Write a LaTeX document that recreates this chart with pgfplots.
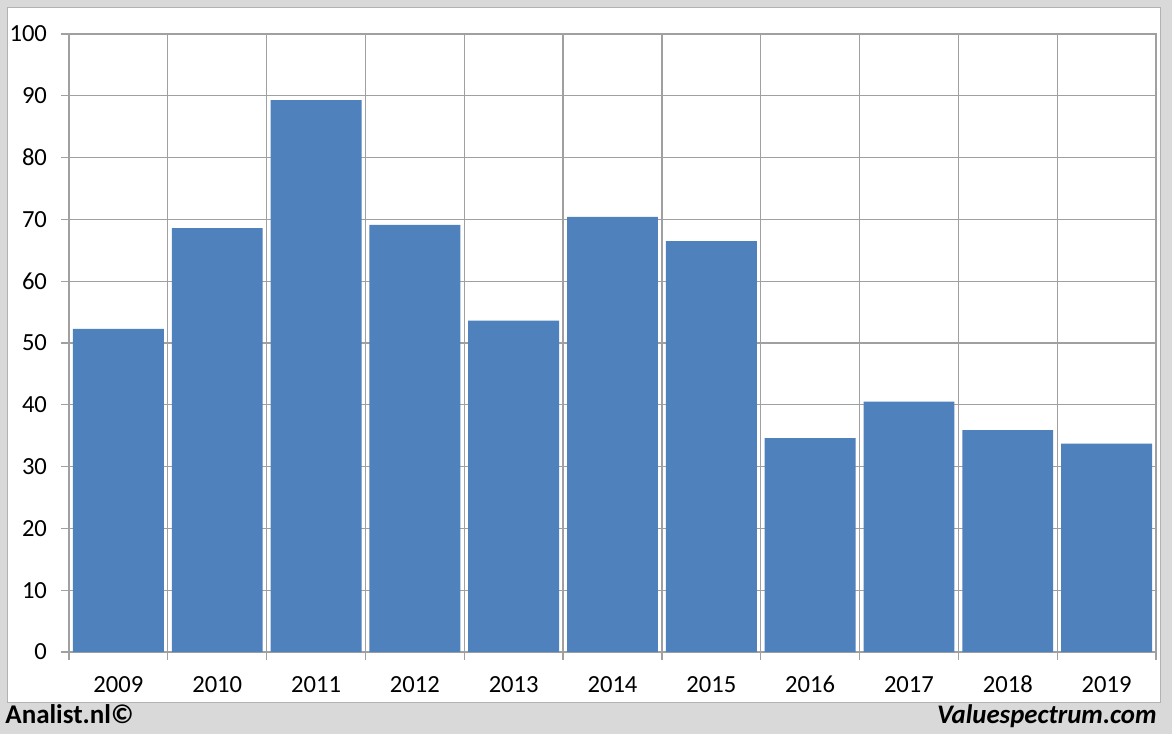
\documentclass[border=0pt]{standalone}
\usepackage{fontspec}
\setmainfont{Carlito}
\usepackage{pgfplots}
\pgfplotsset{compat=1.18}
\definecolor{barblue}{HTML}{4F81BD}
\definecolor{bggray}{HTML}{D9D9D9}
\definecolor{gridgray}{HTML}{A0A0A0}
\begin{document}
\begin{tikzpicture}
\useasboundingbox (0,0) rectangle (586bp,367bp);
\fill[bggray] (0,0) rectangle (586bp,367bp);
\fill[white] (3.8bp,15.5bp) rectangle (580bp,363bp);
\draw[gray!60, line width=0.5bp] (3.8bp,15.5bp) rectangle (580bp,363bp);
\begin{axis}[
  at={(34.5bp,41bp)}, anchor=south west,
  scale only axis, width=543.5bp, height=309bp,
  xmin=-0.5, xmax=10.5, ymin=0, ymax=100,
  ytick={0,10,...,100},
  xtick={0,...,10},
  xticklabels={2009,2010,2011,2012,2013,2014,2015,2016,2017,2018,2019},
  minor xtick={-0.5,0.5,...,10.5},
  xminorgrids=true, ymajorgrids=true,
  grid style={gridgray, line width=0.6bp},
  minor grid style={gridgray, line width=0.6bp},
  axis line style={gridgray, line width=0.6bp},
  tick align=outside,
  major tick length=4bp, minor tick length=4bp,
  every major x tick/.append style={draw=none},
  tick style={gridgray, line width=0.6bp},
  xtick pos=bottom, ytick pos=left,
  /pgf/number format/assume math mode=true,
  tick label style={font=\fontsize{12.3bp}{14bp}\selectfont, black},
  xticklabel style={yshift=-4bp, text height=8.5bp, text depth=0pt},
  yticklabel style={xshift=-3.5bp},
  ybar, bar width=0.92,
]
\addplot[fill=barblue, draw=none] coordinates {
(0,52.3) (1,68.6) (2,89.3) (3,69.1) (4,53.6) (5,70.4) (6,66.5) (7,34.6) (8,40.5) (9,35.9) (10,33.7)};
\end{axis}
\node[anchor=base west, inner sep=0, font=\fontsize{13.5bp}{15bp}\selectfont\bfseries] at (2.5bp,5.5bp) {Analist.nl©};
\node[anchor=base east, inner sep=0, font=\fontsize{13.4bp}{15bp}\selectfont\bfseries\itshape] at (578.5bp,5.5bp) {Valuespectrum.com};
\end{tikzpicture}
\end{document}
